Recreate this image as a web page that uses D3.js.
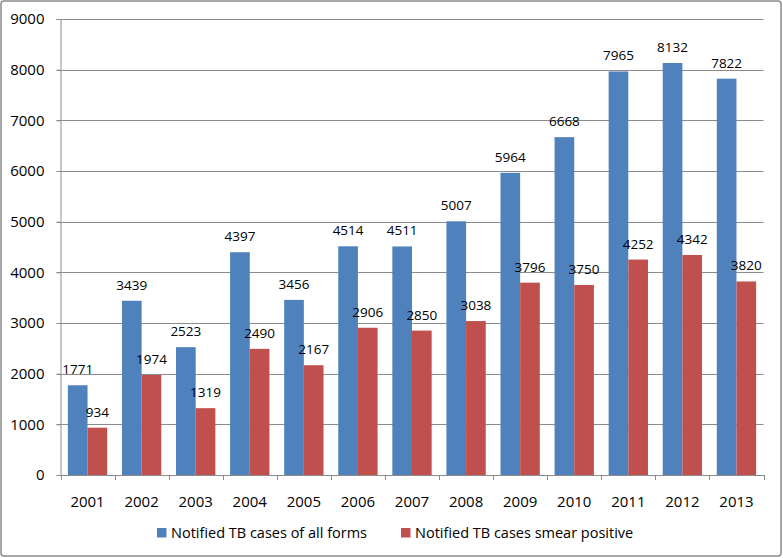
<!DOCTYPE html>
<html><head><meta charset="utf-8">
<script src="https://cdn.jsdelivr.net/npm/d3@7"></script>
<style>body{margin:0;background:#fff}svg{display:block}</style>
</head><body><svg id="c" width="783" height="558"></svg>
<script>
const years = ["2001","2002","2003","2004","2005","2006","2007","2008","2009","2010","2011","2012","2013"];
const allForms = [1771,3439,2523,4397,3456,4514,4511,5007,5964,6668,7965,8132,7822];
const smearPositive = [934,1974,1319,2490,2167,2906,2850,3038,3796,3750,4252,4342,3820];
const seriesNames = ["Notified TB cases of all forms","Notified TB cases smear positive"];
const colors = ["#4F81BD","#C0504D"];
const yTicks = [0,1000,2000,3000,4000,5000,6000,7000,8000,9000];

const svg = d3.select("#c");
const font = "'Open Sans', 'Liberation Sans', sans-serif";
svg.append("rect").attr("x",1).attr("y",1).attr("width",780).attr("height",555)
  .attr("rx",3).attr("fill","#fff").attr("stroke","#8c8c8c").attr("stroke-width",1.5);

const L=60.5, R=763.5, T=19, B=475;
const x = d3.scaleBand().domain(years).range([L,R]).paddingInner(0).paddingOuter(0);
const y = d3.scaleLinear().domain([0,9000]).range([B,T]);
const inner = d3.scaleBand().domain([0,1]).range([0,x.bandwidth()]).paddingInner(0).paddingOuter(0.375);

// gridlines
svg.append("g").selectAll("line").data(yTicks.filter(d=>d>0)).join("line")
  .attr("x1",L-4).attr("x2",R).attr("y1",d=>Math.round(y(d))+0.5).attr("y2",d=>Math.round(y(d))+0.5)
  .attr("stroke","#8c8c8c").attr("stroke-width",1);

// y axis
const ya = svg.append("g").attr("transform",`translate(${L},0)`)
  .call(d3.axisLeft(y).tickValues(yTicks).tickSize(4).tickPadding(12).tickFormat(d3.format("d")));
ya.select(".domain").attr("stroke","#8c8c8c");
ya.selectAll(".tick line").attr("stroke","#8c8c8c");
ya.selectAll("text").attr("font-family",font).attr("font-size",15).attr("fill","#000");

// bars
const data = years.map((yr,i)=>({yr, vals:[allForms[i], smearPositive[i]]}));
const groups = svg.append("g").selectAll("g").data(data).join("g")
  .attr("transform",d=>`translate(${x(d.yr)},0)`);
groups.selectAll("rect").data(d=>d.vals.map((v,k)=>({v,k}))).join("rect")
  .attr("x",d=>inner(d.k)).attr("width",inner.bandwidth())
  .attr("y",d=>y(d.v)).attr("height",d=>B-y(d.v))
  .attr("fill",d=>colors[d.k]);
groups.selectAll("text").data(d=>d.vals.map((v,k)=>({v,k}))).join("text")
  .attr("x",d=>inner(d.k)+inner.bandwidth()/2).attr("y",d=>y(d.v)-11)
  .attr("text-anchor","middle").attr("font-family",font).attr("font-size",13.5).attr("fill","#000")
  .text(d=>d.v);

// x axis
const xa = svg.append("g").attr("transform",`translate(0,${B})`)
  .call(d3.axisBottom(x).tickSize(0).tickPadding(21));
xa.select(".domain").attr("stroke","#8c8c8c");
xa.selectAll("text").attr("font-family",font).attr("font-size",15).attr("fill","#000");
svg.append("g").selectAll("line").data(years.map(d=>x(d)).concat([R])).join("line")
  .attr("x1",d=>Math.round(d)+0.5).attr("x2",d=>Math.round(d)+0.5).attr("y1",B).attr("y2",B+5)
  .attr("stroke","#8c8c8c");

// legend
const legX = [157,401];
const leg = svg.append("g").selectAll("g").data(seriesNames).join("g")
  .attr("transform",(d,i)=>`translate(${legX[i]},528)`);
leg.append("rect").attr("width",9.5).attr("height",9.5).attr("fill",(d,i)=>colors[i]);
leg.append("text").attr("x",14).attr("y",9.5).attr("font-family",font).attr("font-size",14.5).attr("fill","#000").text(d=>d);
</script></body></html>
